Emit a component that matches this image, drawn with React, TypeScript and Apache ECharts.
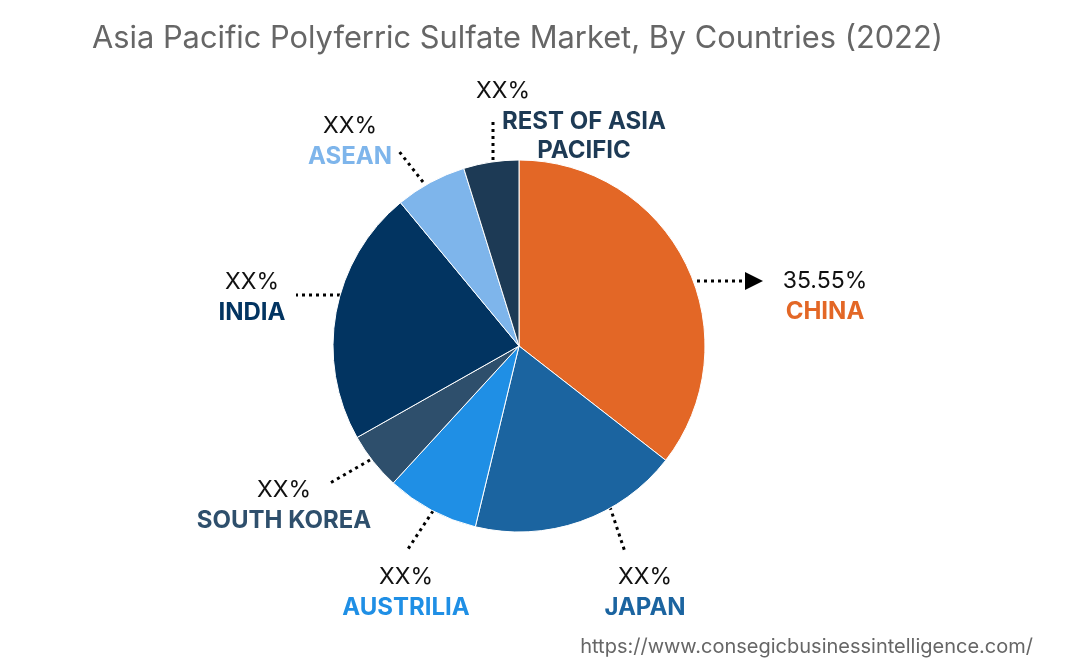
import React, { useEffect, useRef } from "react";
import * as echarts from "echarts";

const TITLE = "Asia Pacific Polyferric Sulfate Market, By Countries (2022)";
const SOURCE = "https://www.consegicbusinessintelligence.com/";

const countries = ["CHINA", "JAPAN", "AUSTRILIA", "SOUTH KOREA", "INDIA", "ASEAN", "REST OF ASIA\nPACIFIC"];
const shares = [35.55, 18.25, 8.05, 5.0, 22.2, 6.2, 4.8];
const shareLabels = ["35.55%", "XX%", "XX%", "XX%", "XX%", "XX%", "XX%"];
const colors = ["#E36726", "#1B64A0", "#1F8FE5", "#2E4F6C", "#023461", "#7EB5EB", "#1D3A55"];

// label anchor positions (block centres) and leader-line points, in pixels
const labelPlacement = [
  { x: 825, y: 295, line: [[697, 281], [746, 281]] },
  { x: 645, y: 591, line: [[610, 507], [625, 552]] },
  { x: 406, y: 591, line: [[433, 511], [408, 549]] },
  { x: 284, y: 504, line: [[370, 460], [330, 483]] },
  { x: 252, y: 296, line: [[340, 295], [296, 295]] },
  { x: 350, y: 140, line: [[423, 182], [398, 150]] },
  { x: 571, y: 119, line: [[493, 160], [493, 119]] },
];

export default function App() {
  const ref = useRef<HTMLDivElement>(null);
  useEffect(() => {
    if (!ref.current) return;
    const chart = echarts.init(ref.current, null, { renderer: "svg" });
    const FONT = "Inter";
    const rich: any = {
      v: { fontFamily: FONT, fontSize: 23, color: "#111", lineHeight: 31, align: "center" },
      vl: { fontFamily: FONT, fontSize: 23, color: "#111", lineHeight: 31, align: "left" },
    };
    countries.forEach((_, i) => {
      rich["n" + i] = { fontFamily: FONT, fontSize: 24, fontWeight: "bold", color: colors[i], lineHeight: 31, align: "center" };
    });
    rich.nr = { fontFamily: FONT, fontSize: 24, fontWeight: "bold", color: colors[6], lineHeight: 29, align: "center", padding: [0, 0, 0, 26] };

    chart.setOption({
      animation: false,
      title: {
        text: TITLE,
        left: 87,
        top: 16,
        textStyle: { fontFamily: FONT, fontSize: 30.8, fontWeight: "normal", color: "#666" },
      },
      graphic: [
        {
          type: "text",
          right: 36,
          top: 636,
          style: { text: SOURCE, fontFamily: FONT, fontSize: 20, fill: "#666" },
        },
        {
          type: "polygon",
          shape: { points: [[745, 272], [763, 281], [745, 290]] },
          style: { fill: "#000" },
        },
      ],
      series: [
        {
          type: "pie",
          center: [519, 346],
          radius: 186,
          startAngle: 90,
          clockwise: true,
          avoidLabelOverlap: false,
          itemStyle: { borderColor: "#fff", borderWidth: 1 },
          label: {
            show: true,
            position: "outside",
            formatter: (p: any) => {
              const i = p.dataIndex;
              const names = countries[i].split("\n");
              if (i === 6) {
                return `{vl|${shareLabels[i]}}\n` + names.map((n) => `{nr|${n}}`).join("\n");
              }
              return `{v|${shareLabels[i]}}\n` + names.map((n) => `{n${i}|${n}}`).join("\n");
            },
            rich,
          },
          labelLine: {
            show: true,
            lineStyle: { color: "#000", width: 3, type: [3, 4] },
          },
          labelLayout: (params: any) => {
            const p = labelPlacement[params.dataIndex];
            return {
              x: p.x,
              y: p.y,
              align: "center",
              verticalAlign: "middle",
              labelLinePoints: p.line,
            };
          },
          data: countries.map((name, i) => ({
            name,
            value: shares[i],
            itemStyle: { color: colors[i] },
          })),
        },
      ],
    });
    return () => chart.dispose();
  }, []);
  return <div ref={ref} style={{ position: "fixed", left: 0, top: 0, width: 1069, height: 672 }} />;
}
